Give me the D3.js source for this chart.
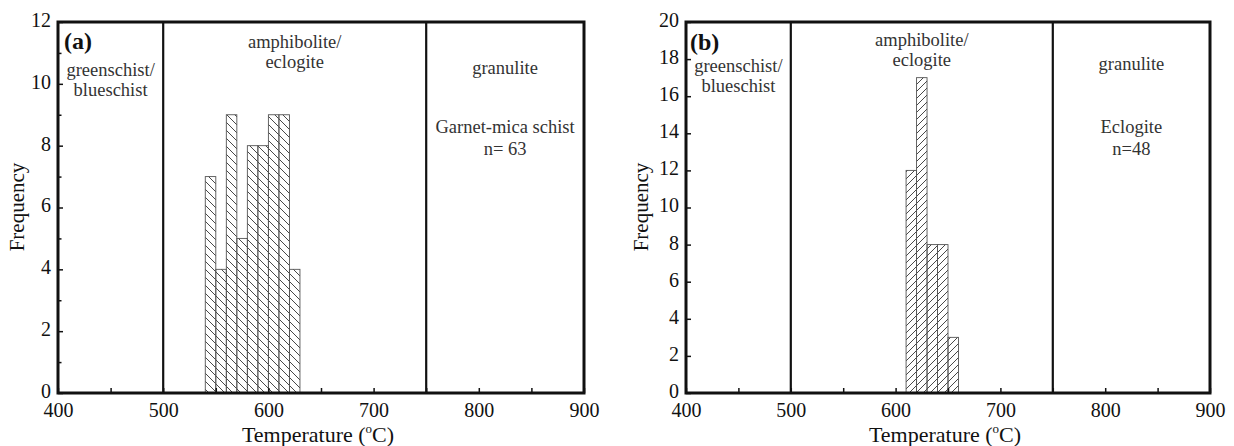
<!DOCTYPE html>
<html>
<head>
<meta charset="utf-8">
<script src="https://cdn.jsdelivr.net/npm/d3@7"></script>
<style>
  html, body { margin: 0; padding: 0; background: #fff; }
  svg { display: block; }
  svg text { font-family: 'Liberation Serif', 'Times New Roman', Times, 'DejaVu Serif', serif !important; }
</style>
</head>
<body>
<svg id="chart" width="1234" height="446"></svg>
<script>
// ---- data ----
const binStartsA = [540, 550, 560, 570, 580, 590, 600, 610, 620];
const countsA    = [7, 4, 9, 5, 8, 8, 9, 9, 4];
const binStartsB = [610, 620, 630, 640, 650];
const countsB    = [12, 17, 8, 8, 3];
const binWidth = 10;
const xTickLabels = [400, 500, 600, 700, 800, 900];
const yTicksA = [0, 2, 4, 6, 8, 10, 12];
const yTicksB = [0, 2, 4, 6, 8, 10, 12, 14, 16, 18, 20];
const faciesBounds = [500, 750];
const faciesLabels = [
  {lines: ["greenschist/", "blueschist"], x: 450},
  {lines: ["amphibolite/", "eclogite"], x: 625},
  {lines: ["granulite"], x: 825}
];
const rockA = ["Garnet-mica schist", "n= 63"];
const rockB = ["Eclogite", "n=48"];

const FONT = "'Liberation Serif', 'Times New Roman', serif";
const svg = d3.select("#chart");
svg.append("rect").attr("width", 1234).attr("height", 446).attr("fill", "#fff");
const defs = svg.append("defs");
// hatch patterns
const pBack = defs.append("pattern").attr("id", "hatchBack")
  .attr("patternUnits", "userSpaceOnUse").attr("width", 8).attr("height", 8);
pBack.append("path").attr("d", "M0,0 L8,8 M-2,6 L2,10 M6,-2 L10,2")
  .attr("stroke", "#333").attr("stroke-width", 0.9).attr("fill", "none");
const pFwd = defs.append("pattern").attr("id", "hatchFwd")
  .attr("patternUnits", "userSpaceOnUse").attr("width", 7).attr("height", 7);
pFwd.append("path").attr("d", "M0,7 L7,0 M-2,2 L2,-2 M5,9 L9,5")
  .attr("stroke", "#333").attr("stroke-width", 0.9).attr("fill", "none");

function txt(g) {
  return g.append("text").style("font-family", FONT);
}

function panel(opts) {
  const {left, right, top, bottom, yMax, yTicks, yMinor, starts, counts, pattern,
         label, labelX, labelY, rock, freqX, fy} = opts;
  const x = d3.scaleLinear().domain([400, 900]).range([left, right]);
  const y = d3.scaleLinear().domain([0, yMax]).range([bottom, top]);
  const g = svg.append("g");

  // bars
  g.selectAll("rect.bar").data(starts).enter().append("rect")
    .attr("class", "bar")
    .attr("x", (d) => x(d))
    .attr("width", (d) => x(d + binWidth) - x(d))
    .attr("y", (d, i) => y(counts[i]))
    .attr("height", (d, i) => y(0) - y(counts[i]))
    .attr("fill", "url(#" + pattern + ")")
    .attr("stroke", "#555").attr("stroke-width", 0.9);

  // facies boundaries
  g.selectAll("line.fb").data(faciesBounds).enter().append("line")
    .attr("x1", (d) => x(d)).attr("x2", (d) => x(d))
    .attr("y1", top).attr("y2", bottom)
    .attr("stroke", "#111").attr("stroke-width", 2.2);

  // axes
  const xAxis = d3.axisBottom(x).tickValues(d3.range(400, 901, 50))
    .tickSize(-5).tickPadding(10)
    .tickFormat((d) => xTickLabels.includes(d) ? d : "");
  const gx = g.append("g").attr("transform", `translate(0,${bottom})`).call(xAxis);
  const yAxis = d3.axisLeft(y).tickValues(yTicks).tickSize(-5).tickPadding(7);
  const gy = g.append("g").attr("transform", `translate(${left},0)`).call(yAxis);
  if (yMinor) {
    const yAxisMinor = d3.axisLeft(y).tickValues(yMinor).tickSize(-3.5).tickFormat("");
    g.append("g").attr("transform", `translate(${left},0)`).call(yAxisMinor)
      .call((s) => s.select(".domain").remove())
      .selectAll("line").attr("stroke", "#111").attr("stroke-width", 1.5);
  }
  [gx, gy].forEach((a) => {
    a.select(".domain").remove();
    a.selectAll("line").attr("stroke", "#111").attr("stroke-width", 1.5);
    a.selectAll("text").attr("font-size", 20).attr("fill", "#111")
      .style("font-family", FONT);
  });
  gy.selectAll("text").attr("dy", "0.22em");

  // frame
  g.append("rect").attr("x", left).attr("y", top)
    .attr("width", right - left).attr("height", bottom - top)
    .attr("fill", "none").attr("stroke", "#111").attr("stroke-width", 3);

  // axis titles
  const xt = txt(g).attr("x", (left + right) / 2 - 3).attr("y", 442)
    .attr("text-anchor", "middle").attr("font-size", 22).attr("fill", "#111");
  xt.append("tspan").text("Temperature (");
  xt.append("tspan").text("o").attr("font-size", 13).attr("dy", -9);
  xt.append("tspan").text("C)").attr("dy", 9);
  txt(g).attr("transform", `translate(${freqX},207) rotate(-90)`)
    .attr("text-anchor", "middle").attr("font-size", 21).attr("fill", "#111")
    .text("Frequency");

  // panel label
  txt(g).attr("x", labelX).attr("y", labelY).attr("font-size", 24)
    .attr("font-weight", "bold").attr("fill", "#111").text(label);

  // facies labels
  faciesLabels.forEach((f, i) => {
    f.lines.forEach((t, j) => {
      txt(g).attr("x", x(f.x)).attr("y", fy[i] + j * 20)
        .attr("text-anchor", "middle").attr("font-size", 18.5).attr("fill", "#333")
        .text(t);
    });
  });
  rock.forEach((t, j) => {
    txt(g).attr("x", x(825)).attr("y", 133 + j * 22)
      .attr("text-anchor", "middle").attr("font-size", 18.5).attr("fill", "#333")
      .text(t);
  });
}

panel({left: 58, right: 584, top: 22, bottom: 393, yMax: 12, yTicks: yTicksA,
  yMinor: [1, 3, 5, 7, 9, 11], starts: binStartsA, counts: countsA,
  pattern: "hatchBack", label: "(a)", labelX: 64, labelY: 49, rock: rockA,
  freqX: 24, fy: [76, 48, 74]});
panel({left: 686, right: 1210, top: 22, bottom: 393, yMax: 20, yTicks: yTicksB,
  yMinor: null, starts: binStartsB, counts: countsB,
  pattern: "hatchFwd", label: "(b)", labelX: 690, labelY: 50, rock: rockB,
  freqX: 648, fy: [72, 46, 70]});
</script>
</body>
</html>
